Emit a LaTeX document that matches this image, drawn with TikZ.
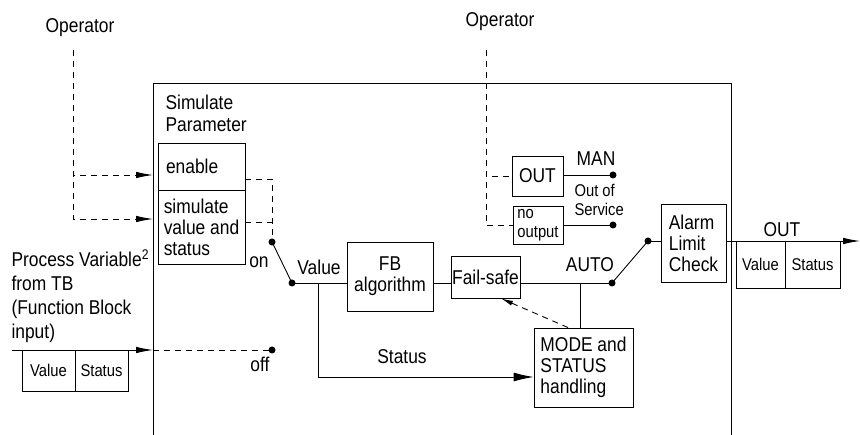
\documentclass[tikz,border=0pt]{standalone}
\usepackage{fontspec}
\setmainfont{Liberation Sans}[FakeStretch=0.87]
\usetikzlibrary{arrows.meta}

\begin{document}
\begin{tikzpicture}[x=1pt, y=-1pt, >={Latex[length=17pt,width=6.5pt]},
  font=\fontsize{20}{21}\selectfont]

% Styles
\tikzset{
  box/.style={draw, line width=0.9pt, inner sep=0pt},
  dot/.style={circle, fill, inner sep=0pt, minimum size=7pt},
  wire/.style={line width=0.9pt},
  opline/.style={line width=0.9pt, dash pattern=on 6pt off 5pt},
  small/.style={font=\fontsize{17}{19}\selectfont}
}

\useasboundingbox (0,0) rectangle (860,435);

% Block frame (open at the bottom)
\draw[wire] (153,435) -- (153,83) -- (731,83) -- (731,435);

% Simulate parameter
\node[anchor=base west, align=left, font=\fontsize{20}{22}\selectfont] (simlbl) at (162,132) {Simulate\\Parameter};
\node[box, minimum width=87pt, minimum height=47pt, text width=71pt, align=left] (enable) at (201.5,166.5) {enable};
\node[box, minimum width=87pt, minimum height=74pt, align=left] (sim) at (201.5,227) {simulate\\value and\\status};

% Left operator
\node[anchor=base] (opL) at (80,33) {Operator};
\coordinate (opLtop) at (73,50);
\coordinate (inEn) at (153,175);
\coordinate (inSim) at (153,219);
\draw[opline, ->] (opLtop) |- (inEn);
\draw[opline, ->] (opLtop) |- (inSim);

% Simulate switch
\node[dot] (on) at (272,242) {};
\node[dot] (off) at (272,350) {};
\node[dot] (pivot) at (292,283) {};
\draw[opline] ([yshift=-12.5pt]enable.east) -| (on.center);
\draw[opline] ([yshift=5pt]sim.east) -- ([yshift=5pt]sim.east -| on);
\draw[wire] (on.center) -- (pivot.center);
\node[anchor=base] at (259,268) {on};
\node[anchor=base] at (260,372) {off};

% Process variable input
\node[anchor=base west, align=left, font=\fontsize{20}{24}\selectfont] (pv) at (8,339)
  {Process Variable\textsuperscript{2}\\from TB\\(Function Block\\input)};
\coordinate (pvIn) at (12,350);
\coordinate (frameIn) at (153,350);
\draw[wire, ->] (pvIn) -- (frameIn);
\draw[opline] (frameIn) -- (off.center);
\node[box, small, minimum width=53pt, minimum height=41pt] (inV) at (48.5,370.5) {Value};
\node[box, small, minimum width=53pt, minimum height=41pt] (inS) at (101.5,370.5) {Status};

% Value path
\node[anchor=base] at (319,275) {Value};
\node[box, minimum width=86pt, minimum height=69pt, align=center] (fb) at (390,276.5) {FB\\algorithm};
\node[box, minimum width=69pt, minimum height=42pt] (fs) at (485.5,277) {Fail-safe};
\node[dot] (auto) at (612,283) {};
\draw[wire] (pivot.center) -- (pivot -| fb.west);
\draw[wire] (pivot -| fb.east) -- (pivot -| fs.west);
\draw[wire] (pivot -| fs.east) -- (auto.center);
\node[anchor=base] at (590,272) {AUTO};

% Mode and status handling
\node[box, minimum width=99pt, minimum height=79pt, align=left] (mode) at (583.5,367.5)
  {MODE and\\STATUS\\handling};
\coordinate (tap) at (580,283);
\coordinate (split) at (318,283);
\draw[wire] (tap) -- (tap |- mode.north);
\draw[wire, -{Latex[length=20pt,width=9pt]}] (split) |- ([yshift=-9.5pt]mode.west);
\node[anchor=base] at (402,364) {Status};
\draw[opline, -{Latex[length=12pt,width=5pt]}] ([xshift=-15.5pt]mode.north) -- ([xshift=15.5pt]fs.south);

% Right operator, MAN and Out of Service
\node[anchor=base] (opR) at (500,27) {Operator};
\coordinate (opRtop) at (486,50);
\node[box, minimum width=51pt, minimum height=40pt] (manOut) at (537.5,176) {OUT};
\node[box, small, minimum width=50pt, minimum height=38pt, align=left] (noOut) at (538,225) {no\\output};
\draw[opline] (opRtop) |- (manOut.west);
\draw[opline] (opRtop) |- (noOut.west);
\node[dot] (man) at (613,175) {};
\node[dot] (oos) at (613,225) {};
\draw[wire] (man -| manOut.east) -- (man.center);
\draw[wire] (noOut.east) -- (oos.center);
\node[anchor=base] at (596,166) {MAN};
\node[small, anchor=base west, align=left] at (571,216) {Out of\\Service};

% Alarm and output
\node[dot] (alarmIn) at (648,241) {};
\draw[wire] (auto.center) -- (alarmIn.center);
\node[box, minimum width=65pt, minimum height=78pt, align=left] (alarm) at (693.5,243)
  {Alarm\\Limit\\Check};
\draw[wire] (alarmIn.center) -- (alarmIn -| alarm.west);
\coordinate (outEnd) at (860,241);
\draw[wire, ->] (alarmIn -| alarm.east) -- (outEnd);
\node[anchor=base] at (782,237) {OUT};
\node[box, small, minimum width=49pt, minimum height=47pt] (outV) at (760.5,264.5) {Value};
\node[box, small, minimum width=55pt, minimum height=47pt] (outS) at (812.5,264.5) {Status};

\end{tikzpicture}
\end{document}
